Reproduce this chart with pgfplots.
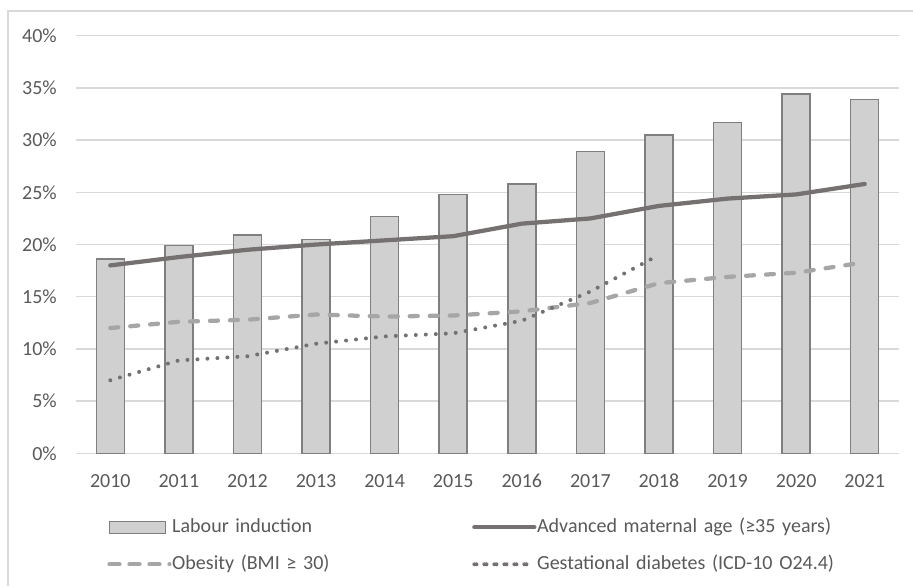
\documentclass[border=0pt]{standalone}
\usepackage{fontspec}
\setmainfont{Carlito}
\usepackage{pgfplots}
\pgfplotsset{compat=1.18}

\definecolor{txt}{HTML}{595959}
\definecolor{gridc}{HTML}{D9D9D9}
\definecolor{barfill}{HTML}{D0D0D0}
\definecolor{baredge}{HTML}{7F7F7F}
\definecolor{agec}{HTML}{767171}
\definecolor{obc}{HTML}{A6A6A6}
\definecolor{gdc}{HTML}{767171}

% legend symbols
\pgfplotsset{
  barleg/.style={legend image code/.code={\draw[##1] (0pt,-4.5pt) rectangle (42pt,4.5pt);}},
  lineleg/.style={legend image code/.code={\draw[##1] (1.6pt,0) -- (#1,0); \path (0,0) -- (45pt,0);}},
}

\begin{document}
\begin{tikzpicture}
\path[use as bounding box] (0,0) rectangle (684.75pt,439.5pt);
% chart area frame
\draw[gridc, line width=0.9pt] (6pt,0) -- (6pt,431.25pt) -- (690pt,431.25pt);
\begin{axis}[
  at={(57pt,99.5pt)}, anchor=south west,
  scale only axis, width=617.25pt, height=313.2pt,
  xmin=-0.5, xmax=11.5, ymin=0, ymax=40,
  axis line style={draw=none},
  tick style={draw=none}, major tick length=0pt,
  xtick={0,...,11},
  xticklabels={2010,2011,2012,2013,2014,2015,2016,2017,2018,2019,2020,2021},
  ytick={0,5,10,15,20,25,30,35,40},
  yticklabels={0\%,5\%,10\%,15\%,20\%,25\%,30\%,35\%,40\%},
  ymajorgrids, grid style={gridc, line width=1.1pt},
  every tick label/.append style={font=\fontsize{15}{18}\selectfont, text=txt},
  xticklabel style={anchor=north, inner sep=0pt, text height=10.5pt, text depth=0pt, yshift=-15pt},
  yticklabel style={anchor=east, inner sep=0pt, xshift=-14.25pt},
  legend columns=2,
  legend cell align=left,
  legend style={at={(0.0377,-0.1549)}, anchor=north west, draw=none, fill=none,
    inner sep=0pt, row sep=14.25pt, font=\fontsize{15}{18}\selectfont, text=txt,
    nodes={inner sep=0pt, text height=10.5pt, text depth=3pt, text width=225pt, align=left},
    /tikz/every odd column/.append style={column sep=0.5pt}},
]
% Labour induction
\addplot[ybar, bar width=21pt, fill=barfill, draw=baredge, line width=1.1pt, barleg]
  coordinates {(0,18.6) (1,19.9) (2,20.9) (3,20.5) (4,22.7) (5,24.8)
               (6,25.8) (7,28.9) (8,30.5) (9,31.7) (10,34.4) (11,33.9)};
\addlegendentry{Labour induction}
% Advanced maternal age
\addplot[agec, line width=3.2pt, line cap=round, line join=round, lineleg=42.4pt]
  coordinates {(0,18.0) (1,18.8) (2,19.5) (3,20.0) (4,20.4) (5,20.8)
               (6,22.0) (7,22.5) (8,23.7) (9,24.4) (10,24.8) (11,25.8)};
\addlegendentry{Advanced maternal age (≥35 years)}
% Obesity
\addplot[obc, line width=3.2pt, line cap=round, line join=round,
  dash pattern=on 6pt off 9pt, lineleg=38.4pt]
  coordinates {(0,12.0) (1,12.6) (2,12.8) (3,13.3) (4,13.1) (5,13.2)
               (6,13.6) (7,14.4) (8,16.3) (9,16.9) (10,17.3) (11,18.3)};
\addlegendentry{Obesity (BMI ≥ 30)}
% Gestational diabetes
\addplot[gdc, line width=3pt, line cap=round, line join=round,
  dash pattern=on 0pt off 7.5pt, lineleg=40pt]
  coordinates {(0,7.0) (1,8.9) (2,9.3) (3,10.5) (4,11.2) (5,11.5)
               (6,12.7) (7,15.5) (8,19.0)};
\addlegendentry{Gestational diabetes (ICD-10 O24.4)}
\end{axis}
\end{tikzpicture}
\end{document}
